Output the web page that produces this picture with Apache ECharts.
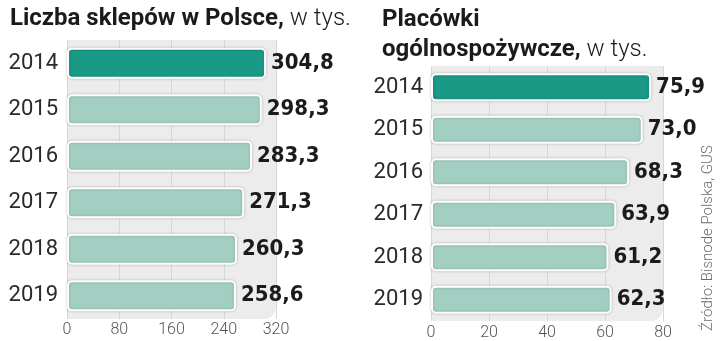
<!DOCTYPE html>
<html>
<head>
<meta charset="utf-8">
<style>
  html, body { margin: 0; padding: 0; background: #ffffff; }
  #chart { width: 720px; height: 341px; }
</style>
<script src="https://cdn.jsdelivr.net/npm/echarts@6/dist/echarts.min.js"></script>
</head>
<body>
<div id="chart"></div>
<script>
// Years shown on both charts
const years = ['2014', '2015', '2016', '2017', '2018', '2019'];
// Number of shops in Poland, thousands
const shops = [304.8, 298.3, 283.3, 271.3, 260.3, 258.6];
// General grocery outlets, thousands
const grocery = [75.9, 73.0, 68.3, 63.9, 61.2, 62.3];
// Axis ranges and steps
const shopsAxis = { max: 320, step: 80 };
const groceryAxis = { max: 80, step: 20 };

const TEAL = '#1a9986';
const MINT = '#a3cfc3';
const PANEL = '#ececec';
const VALUE_FONT = '"DejaVu Sans Condensed", Roboto, sans-serif';

const chart = echarts.init(document.getElementById('chart'), null, { renderer: 'canvas' });

function barData(values) {
  return values.map((v, i) => ({
    value: v,
    itemStyle: { color: i === 0 ? TEAL : MINT }
  }));
}

function fmt(v) {
  return v.toFixed(1).replace('.', ',');
}

const valueAxisCommon = {
  type: 'value',
  min: 0,
  axisLine: { show: false },
  axisTick: { show: false },
  splitLine: { show: true, lineStyle: { color: '#d7d7d7', width: 1 } },
  axisLabel: {
    color: '#555',
    fontFamily: 'Roboto',
    fontWeight: 300,
    fontSize: 16,
    showMinLabel: true,
    showMaxLabel: true
  }
};

const catAxisCommon = {
  type: 'category',
  data: years,
  inverse: true,
  axisLine: { show: false },
  axisTick: { show: false },
  splitLine: { show: false },
  axisLabel: {
    color: '#2a2a2a',
    fontFamily: 'Roboto',
    fontSize: 22,
    margin: 9
  }
};

const seriesCommon = {
  type: 'bar',
  label: {
    show: true,
    position: 'right',
    distance: 5,
    formatter: p => fmt(p.value),
    fontFamily: VALUE_FONT,
    fontWeight: 'bold',
    fontSize: 22,
    color: '#1b1b1b'
  },
  itemStyle: {
    borderColor: '#ffffff',
    borderWidth: 2,
    borderRadius: 4,
    shadowColor: 'rgba(0,0,0,0.2)',
    shadowBlur: 3
  },
  emphasis: { disabled: true },
  silent: true,
  animation: false
};

chart.setOption({
  animation: false,
  backgroundColor: '#ffffff',
  title: [
    {
      left: 5, top: 2,
      text: '{b|Liczba sklepów w Polsce,}{l| w tys.}',
      textStyle: {
        rich: {
          b: { fontFamily: 'Roboto', fontWeight: 'bold', fontSize: 24, color: '#1b1b1b' },
          l: { fontFamily: 'Roboto', fontWeight: 300, fontSize: 24, color: '#1b1b1b' }
        }
      }
    },
    {
      left: 377, top: 0,
      text: '{b|Placówki}\n{b|ogólnospożywcze,}{l| w tys.}',
      textStyle: {
        lineHeight: 30,
        rich: {
          b: { fontFamily: 'Roboto', fontWeight: 'bold', fontSize: 24, color: '#1b1b1b', lineHeight: 30 },
          l: { fontFamily: 'Roboto', fontWeight: 300, fontSize: 24, color: '#1b1b1b', lineHeight: 30 }
        }
      }
    }
  ],
  grid: [
    { left: 67, top: 40, width: 209, height: 279, show: false },
    { left: 431, top: 66, width: 232, height: 255, show: false }
  ],
  xAxis: [
    Object.assign({}, valueAxisCommon, {
      gridIndex: 0, max: shopsAxis.max, interval: shopsAxis.step,
      axisLabel: Object.assign({}, valueAxisCommon.axisLabel, { margin: 3 })
    }),
    Object.assign({}, valueAxisCommon, {
      gridIndex: 1, max: groceryAxis.max, interval: groceryAxis.step,
      axisLabel: Object.assign({}, valueAxisCommon.axisLabel, { margin: 4 })
    })
  ],
  yAxis: [
    Object.assign({}, catAxisCommon, { gridIndex: 0 }),
    Object.assign({}, catAxisCommon, { gridIndex: 1, axisLabel: Object.assign({}, catAxisCommon.axisLabel, { margin: 8 }) })
  ],
  series: [
    Object.assign({}, seriesCommon, { xAxisIndex: 0, yAxisIndex: 0, barWidth: 31, data: barData(shops) }),
    Object.assign({}, seriesCommon, { xAxisIndex: 1, yAxisIndex: 1, barWidth: 28, data: barData(grocery) })
  ]
});

// Grey plot panels with a rounded lower-right corner, sized from each grid's rect
const panels = [0, 1].map(i => {
  const rect = chart.getModel().getComponent('grid', i).coordinateSystem.getRect();
  return {
    type: 'rect',
    z: -10,
    silent: true,
    shape: { x: rect.x, y: rect.y, width: rect.width, height: rect.height, r: [0, 0, 12, 0] },
    style: { fill: PANEL }
  };
});

chart.setOption({
  graphic: panels.concat([
    {
      type: 'text',
      x: 708, y: 238,
      rotation: Math.PI / 2,
      silent: true,
      style: {
        text: 'Źródło: Bisnode Polska, GUS',
        fontFamily: 'Roboto',
        fontWeight: 300,
        fontSize: 15,
        fill: '#6b6b6b',
        align: 'center',
        verticalAlign: 'middle'
      }
    }
  ])
});
</script>
</body>
</html>
